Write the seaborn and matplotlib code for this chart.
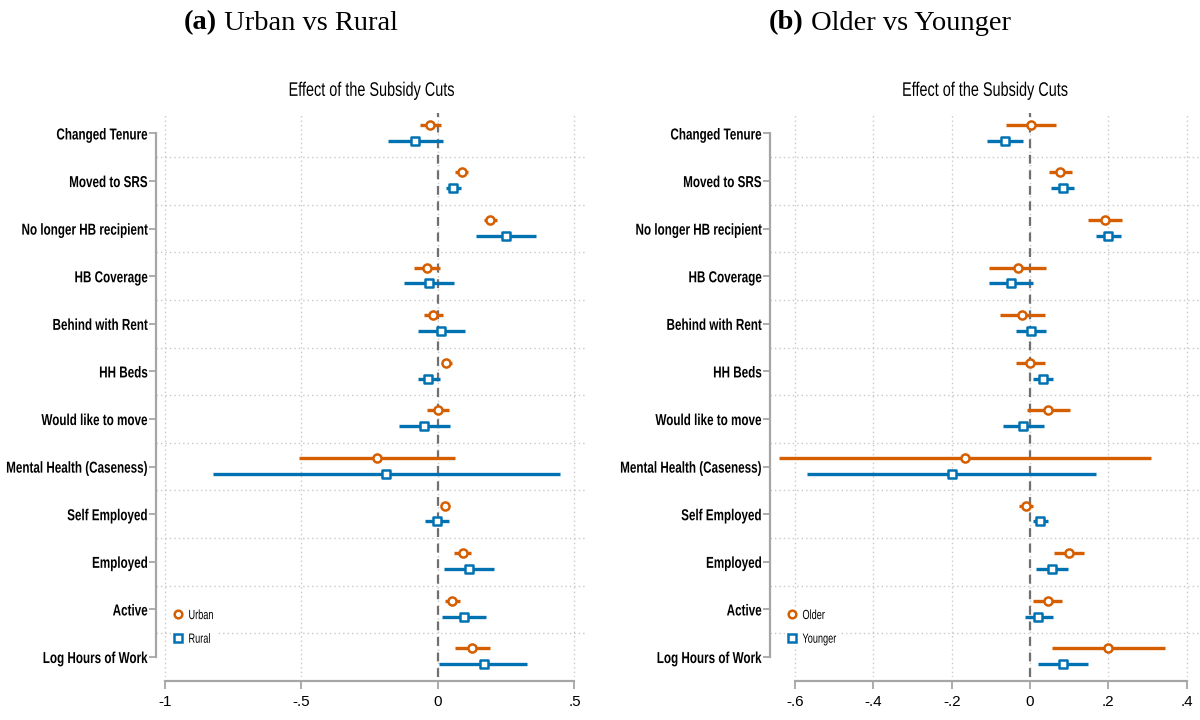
import numpy as np
import pandas as pd
import matplotlib
matplotlib.use("Agg")
import matplotlib.pyplot as plt
from matplotlib.lines import Line2D
from matplotlib.patheffects import AbstractPathEffect
from matplotlib.transforms import Affine2D
import seaborn as sns

# ---------------------------------------------------------------- data
categories = [
    "Changed Tenure", "Moved to SRS", "No longer HB recipient", "HB Coverage",
    "Behind with Rent", "HH Beds", "Would like to move", "Mental Health (Caseness)",
    "Self Employed", "Employed", "Active", "Log Hours of Work",
]

urban_est = [-0.029, 0.087, 0.191, -0.042, -0.017, 0.029, -0.001, -0.225, 0.024, 0.090, 0.052, 0.126]
urban_lo = [-0.065, 0.063, 0.169, -0.087, -0.052, 0.013, -0.041, -0.510, 0.014, 0.059, 0.024, 0.063]
urban_hi = [0.010, 0.111, 0.218, 0.006, 0.020, 0.052, 0.039, 0.063, 0.034, 0.121, 0.081, 0.190]

rural_est = [-0.084, 0.056, 0.249, -0.034, 0.011, -0.035, -0.051, -0.190, -0.004, 0.114, 0.094, 0.167]
rural_lo = [-0.184, 0.031, 0.139, -0.126, -0.074, -0.074, -0.142, -0.826, -0.049, 0.021, 0.014, 0.003]
rural_hi = [0.020, 0.084, 0.358, 0.060, 0.098, 0.007, 0.045, 0.448, 0.041, 0.206, 0.177, 0.327]

older_est = [0.002, 0.077, 0.192, -0.031, -0.020, 0.001, 0.047, -0.165, -0.011, 0.099, 0.045, 0.199]
older_lo = [-0.061, 0.048, 0.149, -0.104, -0.077, -0.036, -0.009, -0.640, -0.027, 0.061, 0.008, 0.056]
older_hi = [0.066, 0.107, 0.236, 0.042, 0.037, 0.039, 0.103, 0.310, 0.008, 0.138, 0.081, 0.345]

younger_est = [-0.065, 0.083, 0.199, -0.049, 0.003, 0.033, -0.018, -0.200, 0.026, 0.056, 0.021, 0.085]
younger_lo = [-0.110, 0.054, 0.168, -0.106, -0.036, 0.008, -0.068, -0.570, 0.008, 0.015, -0.014, 0.021]
younger_hi = [-0.018, 0.112, 0.232, 0.008, 0.042, 0.059, 0.035, 0.169, 0.046, 0.096, 0.058, 0.149]

left_ticks = [-1, -0.5, 0, 0.5]
left_ticklabels = ["-1", "-.5", "0", ".5"]
right_ticks = [-0.6, -0.4, -0.2, 0, 0.2, 0.4]
right_ticklabels = ["-.6", "-.4", "-.2", "0", ".2", ".4"]

subtitle = "Effect of the Subsidy Cuts"

# ---------------------------------------------------------------- style
sns.set_theme(style="white")
SANS = ["Liberation Sans", "DejaVu Sans"]
SERIF = ["Liberation Serif", "DejaVu Serif"]
plt.rcParams["font.family"] = SANS
plt.rcParams["text.color"] = "black"
plt.rcParams["xtick.color"] = "black"
plt.rcParams["ytick.color"] = "black"

ORANGE = "#D55E00"
BLUE = "#0072B2"
AXIS_GREY = "#a6a6a6"
GRID_GREY = "#c8c8c8"


class TallText(AbstractPathEffect):
    """Stretch glyphs vertically about the middle of the cap height,
    giving a condensed, narrow-face look."""

    def __init__(self, sy=1.28, pivot=36.0):
        super().__init__()
        self.sy = sy
        self.pivot = pivot

    def draw_path(self, renderer, gc, tpath, affine, rgbFace=None):
        stretch = (Affine2D().translate(0, -self.pivot)
                   .scale(1, self.sy).translate(0, self.pivot))
        renderer.draw_path(gc, tpath, stretch + affine, rgbFace)


TALL = [TallText(1.36)]
TALL_LEG = [TallText(1.45)]

fig = plt.figure(figsize=(12, 7.2), dpi=100)

W, H = 1200, 720
top_px, bot_px = 113, 677
ax_l = fig.add_axes([156 / W, 1 - bot_px / H, 431 / W, (bot_px - top_px) / H])
ax_r = fig.add_axes([770 / W, 1 - bot_px / H, 430 / W, (bot_px - top_px) / H])

OFF_A, OFF_B = -0.18, 0.15


def build_frame(name_a, est_a, lo_a, hi_a, name_b, est_b, lo_b, hi_b):
    rows = []
    for i, cat in enumerate(categories):
        rows.append(dict(cat=cat, pos=i + OFF_A, group=name_a,
                         est=est_a[i], lo=lo_a[i], hi=hi_a[i]))
        rows.append(dict(cat=cat, pos=i + OFF_B, group=name_b,
                         est=est_b[i], lo=lo_b[i], hi=hi_b[i]))
    return pd.DataFrame(rows)


def draw_panel(ax, df, groups, xlim, ticks, ticklabels, legend_pos):
    n = len(categories)
    ax.set_xlim(*xlim)
    ax.set_ylim(n - 1 + 0.42, -0.43)

    # dotted reference grid: vertical at x ticks, horizontal between rows
    for t in ticks:
        ax.axvline(t, color=GRID_GREY, lw=1.0, ls=(0, (1, 2.2)), zorder=0)
    for k in range(n - 1):
        ax.axhline(k + 0.5, color=GRID_GREY, lw=1.0, ls=(0, (1, 2.2)), zorder=0)
    ax.axvline(0, color="#707070", lw=1.6, ls=(0, (4, 3)), zorder=1)

    colors = {groups[0][0]: ORANGE, groups[1][0]: BLUE}
    for name, marker in groups:
        sub = df[df["group"] == name]
        ax.hlines(sub["pos"], sub["lo"], sub["hi"], color=colors[name],
                  lw=2.4, zorder=2)
        sns.scatterplot(data=sub, x="est", y="pos", ax=ax, marker=marker,
                        s=34 if marker == "o" else 38, facecolor="white",
                        edgecolor=colors[name], linewidth=1.8, zorder=3,
                        legend=False)

    ax.set_xlabel("")
    ax.set_ylabel("")
    ax.set_yticks(range(n))
    ax.set_yticklabels(categories, fontsize=8.4, fontweight="bold",
                       path_effects=TALL)
    ax.set_xticks(ticks)
    ax.set_xticklabels(ticklabels, fontsize=9.4, path_effects=TALL)

    for side in ("top", "right"):
        ax.spines[side].set_visible(False)
    ax.spines["left"].set_color(AXIS_GREY)
    ax.spines["left"].set_linewidth(1.6)
    ax.spines["left"].set_bounds(0, n - 1)
    ax.spines["bottom"].set_color(AXIS_GREY)
    ax.spines["bottom"].set_linewidth(1.6)
    ax.spines["bottom"].set_bounds(ticks[0], ticks[-1])
    ax.spines["bottom"].set_position(("outward", 3))
    ax.tick_params(axis="y", left=True, length=5, width=1.3, color=AXIS_GREY,
                   pad=1, labelcolor="black")
    ax.tick_params(axis="x", bottom=True, length=6, width=1.3, color=AXIS_GREY,
                   pad=4, labelcolor="black")
    ax.grid(False)
    ax.set_facecolor("white")

    ax.text(0.5, 1 + 23 / 564, subtitle, transform=ax.transAxes, ha="center",
            va="center", fontsize=10.4, path_effects=TALL)

    handles = [
        Line2D([], [], ls="none", marker=groups[0][1], markersize=5.5,
               markerfacecolor="white", markeredgecolor=ORANGE,
               markeredgewidth=1.8, label=groups[0][0]),
        Line2D([], [], ls="none", marker=groups[1][1], markersize=5.5,
               markerfacecolor="white", markeredgecolor=BLUE,
               markeredgewidth=1.8, label=groups[1][0]),
    ]
    leg = ax.legend(handles=handles, loc="lower left",
                    bbox_to_anchor=legend_pos, frameon=True, fancybox=False,
                    framealpha=1, edgecolor="none", facecolor="white",
                    prop={"size": 6.6}, handletextpad=0.6,
                    labelspacing=1.6, borderpad=0.3, handlelength=1.0,
                    borderaxespad=0)
    for t in leg.get_texts():
        t.set_path_effects(TALL_LEG)
    leg.set_zorder(5)


df_a = build_frame("Urban", urban_est, urban_lo, urban_hi,
                   "Rural", rural_est, rural_lo, rural_hi)
df_b = build_frame("Older", older_est, older_lo, older_hi,
                   "Younger", younger_est, younger_lo, younger_hi)

draw_panel(ax_l, df_a, [("Urban", "o"), ("Rural", "s")], (-1.033, 0.546),
           left_ticks, left_ticklabels, (0.035, 0.055))
draw_panel(ax_r, df_b, [("Older", "o"), ("Younger", "s")], (-0.664, 0.434),
           right_ticks, right_ticklabels, (0.035, 0.055))

# panel headings with a bold tag followed by regular text
fig.canvas.draw()
renderer = fig.canvas.get_renderer()
for tag, text, cx in [("(a)", " Urban vs Rural", 291), ("(b)", " Older vs Younger", 890)]:
    y = 1 - 23 / H
    t1 = fig.text(0, y, tag, fontsize=20.5, fontweight="bold", family=SERIF,
                  ha="left", va="center")
    t2 = fig.text(0, y, text, fontsize=20.5, family=SERIF, ha="left", va="center")
    w1 = t1.get_window_extent(renderer).width
    w2 = t2.get_window_extent(renderer).width
    x0 = cx - (w1 + w2) / 2
    t1.set_x(x0 / W)
    t2.set_x((x0 + w1) / W)

fig.savefig("out.png", dpi=100, facecolor="white")
